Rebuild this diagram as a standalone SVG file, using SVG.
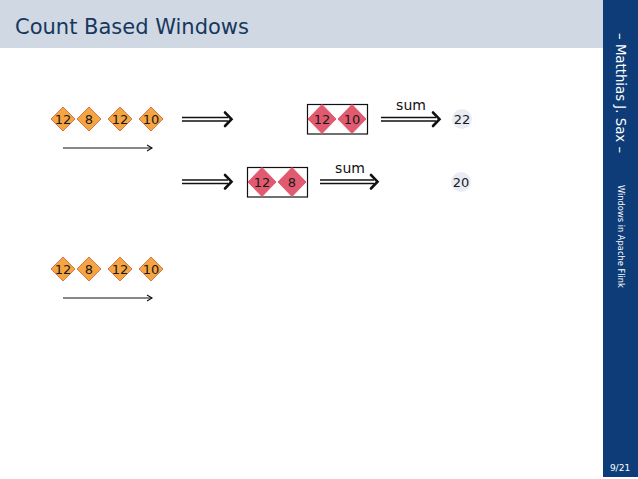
<svg xmlns="http://www.w3.org/2000/svg" width="638" height="479" viewBox="0 0 638 479">
<style>
text{font-family:"DejaVu Sans","Noto Sans",sans-serif}
.t{font-size:13px;fill:#1a1a1a;text-anchor:middle;dominant-baseline:central}
.o{fill:#f5a442;stroke:#d8764a;stroke-width:1}
.r{fill:#e15a6f;stroke:#e15a6f;stroke-width:1}
.box{fill:none;stroke:#111;stroke-width:1.2}
.dl{stroke:#111;stroke-width:1.3;fill:none}
.hd{stroke:#111;stroke-width:2.6;fill:none;stroke-linecap:round;stroke-linejoin:miter}
.res{fill:#e9ecf4}
</style>
<defs>
<marker id="ah" markerWidth="8" markerHeight="8" refX="6" refY="4" orient="auto" markerUnits="userSpaceOnUse">
<path d="M1,1 L6,4 L1,7" fill="none" stroke="#111" stroke-width="1.1"/>
</marker>
<path id="od" d="M0,-12 L12,0 L0,12 L-12,0 Z"/>
<path id="rd" d="M0,-14.5 L14,0 L0,14.5 L-14,0 Z"/>
</defs>
<rect x="0" y="0" width="638" height="479" fill="#fff"/>
<rect x="0" y="0" width="603" height="48" fill="#d0d9e3"/>
<text x="15" y="34" font-size="21" fill="#17375e">Count Based Windows</text>
<rect x="603" y="0" width="35" height="477" fill="#0d3c78"/>
<text transform="translate(616,33) rotate(90)" font-size="13.3" fill="#fff">– Matthias J. Sax –</text>
<text transform="translate(618,185) rotate(90)" font-size="8.3" fill="#fff">Windows in Apache Flink</text>
<text x="620" y="471" font-size="9" fill="#fff" text-anchor="middle">9/21</text>

<g id="stream1">
<use href="#od" x="63" y="119" class="o"/><text class="t" x="63" y="119">12</text>
<use href="#od" x="89" y="119" class="o"/><text class="t" x="89" y="119">8</text>
<use href="#od" x="120" y="119" class="o"/><text class="t" x="120" y="119">12</text>
<use href="#od" x="151" y="119" class="o"/><text class="t" x="151" y="119">10</text>
</g>
<g id="stream2">
<use href="#od" x="63" y="269" class="o"/><text class="t" x="63" y="269">12</text>
<use href="#od" x="89" y="269" class="o"/><text class="t" x="89" y="269">8</text>
<use href="#od" x="120" y="269" class="o"/><text class="t" x="120" y="269">12</text>
<use href="#od" x="151" y="269" class="o"/><text class="t" x="151" y="269">10</text>
</g>
<g id="window1">
<rect class="box" x="307.5" y="104.5" width="60" height="29.5"/>
<use href="#rd" x="322" y="119" class="r"/><text class="t" x="322" y="119">12</text>
<use href="#rd" x="352" y="119" class="r"/><text class="t" x="352" y="119">10</text>
</g>
<g id="window2">
<rect class="box" x="247.5" y="167.5" width="60" height="29.5"/>
<use href="#rd" x="262" y="182" class="r"/><text class="t" x="262" y="182">12</text>
<use href="#rd" x="292" y="182" class="r"/><text class="t" x="292" y="182">8</text>
</g>
<g id="result1"><circle class="res" cx="462" cy="119" r="10"/><text class="t" x="462" y="119">22</text></g>
<g id="result2"><circle class="res" cx="461" cy="182" r="10"/><text class="t" x="461" y="182">20</text></g>

<g id="connectors">
<line x1="63" y1="148" x2="152" y2="148" stroke="#111" stroke-width="1.1" marker-end="url(#ah)"/>
<line x1="63" y1="298" x2="152" y2="298" stroke="#111" stroke-width="1.1" marker-end="url(#ah)"/>
<path class="dl" d="M182,117.5 H228 M182,121 H228"/>
<path class="hd" d="M225,112.5 L231.5,119.2 L225,126"/>
<path class="dl" d="M182,180 H228 M182,183.5 H228"/>
<path class="hd" d="M225,175 L231.5,181.7 L225,188.5"/>
<path class="dl" d="M381,117.5 H436 M381,121 H436"/>
<path class="hd" d="M433,112.5 L439.5,119.2 L433,126"/>
<text x="411" y="110" font-size="14" fill="#111" text-anchor="middle">sum</text>
<path class="dl" d="M320,180 H374 M320,183.5 H374"/>
<path class="hd" d="M371,175 L377.5,181.7 L371,188.5"/>
<text x="350" y="173" font-size="14" fill="#111" text-anchor="middle">sum</text>
</g>
</svg>
